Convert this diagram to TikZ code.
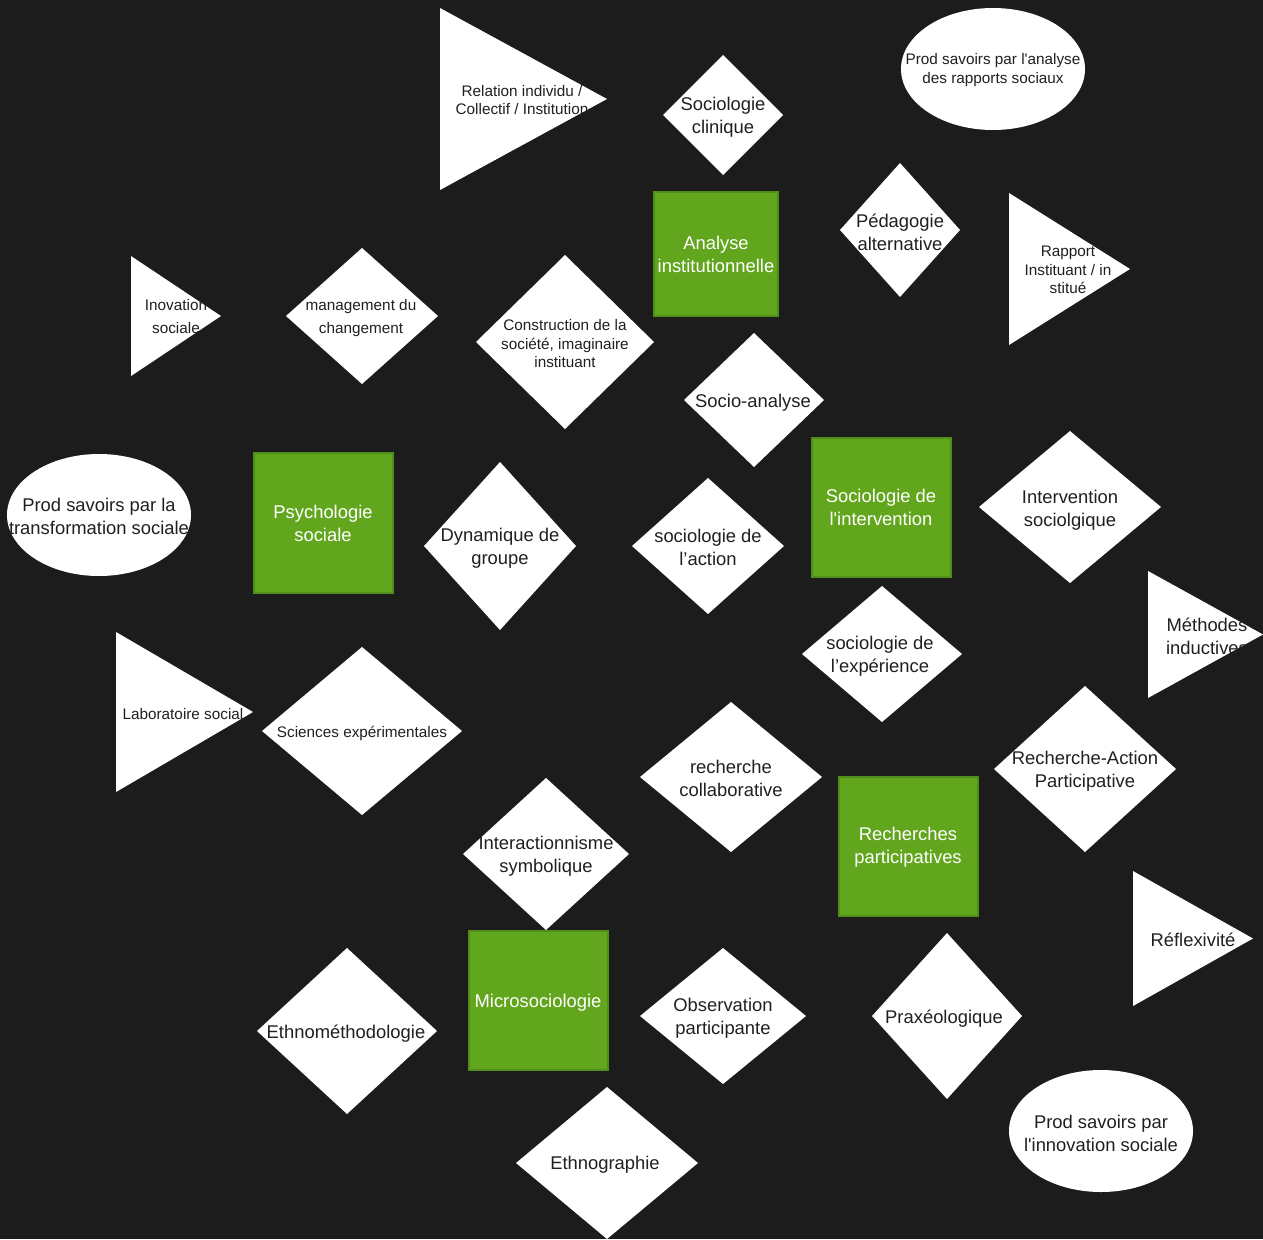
\documentclass[tikz,border=0pt]{standalone}
\usepackage{fontspec}
\setmainfont{Liberation Sans}
\definecolor{bg}{RGB}{28,28,28}
\definecolor{grn}{RGB}{98,166,30}
\definecolor{grnb}{RGB}{80,142,28}
\definecolor{ink}{RGB}{32,32,32}
\newcommand{\fsm}{\fontsize{15.3}{18.5}\selectfont}
\newcommand{\fsmw}{\fontsize{15.3}{23}\selectfont}
\newcommand{\fbg}{\fontsize{18.4}{23}\selectfont}
\newcommand{\sq}{\XeTeXglyph\XeTeXcharglyph"27\relax}
\newcommand{\mydia}[4]{\fill[white] ({#1-#3},#2) -- (#1,{#2-#4}) -- ({#1+#3},#2) -- (#1,{#2+#4}) -- cycle;}
\newcommand{\mytri}[4]{\fill[white] (#1,#2) -- (#4,{(#2+#3)/2}) -- (#1,#3) -- cycle;}
\newcommand{\myell}[4]{\fill[white] (#1,#2) ellipse [x radius=#3, y radius=#4];}
\begin{document}
\begin{tikzpicture}[x=1pt,y=-1pt,
  greenbox/.style={fill=grn, draw=grnb, line width=1.2pt},
  lbl/.style={text=ink, align=center, inner sep=0pt},
  wlbl/.style={text=white, align=center, inner sep=0pt}]
\fill[bg] (0,0) rectangle (1263,1239);
\useasboundingbox (0,0) rectangle (1263,1239);

% triangles
\mytri{440}{8}{190}{607}
\mytri{131}{256}{376}{221}
\mytri{1009}{193}{345}{1130}
\mytri{116}{632}{792}{253}
\mytri{1148}{571}{698}{1263}
\mytri{1133}{871}{1006}{1253}

% ellipses
\myell{993}{69}{92}{61}
\myell{99}{515}{92}{61}
\myell{1101}{1131}{92}{61}

% diamonds
\mydia{723}{115}{60}{60}
\mydia{900}{230}{60}{67}
\mydia{362}{316}{76}{68}
\mydia{565}{342}{89}{87}
\mydia{754}{400}{70}{67}
\mydia{500}{546}{76}{84}
\mydia{708}{546}{76}{68}
\mydia{1070}{507}{91}{76}
\mydia{882}{654}{80}{68}
\mydia{362}{731}{100}{84}
\mydia{731}{777}{91}{75}
\mydia{1085}{769}{91}{83}
\mydia{546}{854}{83}{76}
\mydia{347}{1031}{90}{83}
\mydia{723}{1016}{83}{68}
\mydia{947}{1016}{75}{83}
\mydia{607}{1163}{91}{76}

% green squares
\draw[greenbox] (654,192) rectangle (778,316);
\draw[greenbox] (254,453) rectangle (393,593);
\draw[greenbox] (812,438) rectangle (951,577);
\draw[greenbox] (839,777) rectangle (978,916);
\draw[greenbox] (469,931) rectangle (608,1070);

% labels
\node[lbl, font=\fsm] (relation) at (522,100) {Relation individu /\\Collectif / Institution};
\node[lbl, font=\fsmw] (inovation) at (176,317) {Inovation\\sociale};
\node[lbl, font=\fsm] (rapport) at (1068,270) {Rapport\\Instituant / in\\stitué};
\node[lbl, font=\fsm] (labo) at (183,714) {Laboratoire social};
\node[lbl, font=\fbg] (methodes) at (1207,636) {Méthodes\\inductives};
\node[lbl, font=\fbg] (reflex) at (1193,940) {Réflexivité};

\node[lbl, font=\fsm] (prodA) at (993,70) {Prod savoirs par l\sq analyse\\des rapports sociaux};
\node[lbl, font=\fbg] (prodT) at (99,516) {Prod savoirs par la\\transformation sociale};
\node[lbl, font=\fbg] (prodI) at (1101,1133) {Prod savoirs par\\l\sq innovation sociale};

\node[lbl, font=\fbg] (clinique) at (723,117) {Sociologie\\clinique};
\node[lbl, font=\fbg] (pedago) at (900,232) {Pédagogie\\alternative};
\node[lbl, font=\fsmw] (management) at (361,318) {management du\\changement};
\node[lbl, font=\fsm] (construction) at (565,344) {Construction de la\\société, imaginaire\\instituant};
\node[lbl, font=\fbg] (socioanalyse) at (753,403) {Socio-analyse};
\node[lbl, font=\fbg] (dynamique) at (500,548) {Dynamique de\\groupe};
\node[lbl, font=\fbg] (action) at (708,547) {sociologie de\\l’action};
\node[lbl, font=\fbg] (intervS) at (1070,510) {Intervention\\sociolgique};
\node[lbl, font=\fbg] (experience) at (880,656) {sociologie de\\l’expérience};
\node[lbl, font=\fsm] (sciences) at (362,733) {Sciences expérimentales};
\node[lbl, font=\fbg] (collab) at (731,778) {recherche\\collaborative};
\node[lbl, font=\fbg] (rap) at (1085,771) {Recherche-Action\\Participative};
\node[lbl, font=\fbg] (interact) at (546,856) {Interactionnisme\\symbolique};
\node[lbl, font=\fbg] (ethnometh) at (346,1034) {Ethnométhodologie};
\node[lbl, font=\fbg] (observation) at (723,1018) {Observation\\participante};
\node[lbl, font=\fbg] (praxeo) at (944,1019) {Praxéologique};
\node[lbl, font=\fbg] (ethnographie) at (605,1165) {Ethnographie};

\node[wlbl, font=\fbg] (analyse) at (716,254) {Analyse\\institutionnelle};
\node[wlbl, font=\fbg] (psycho) at (323,523) {Psychologie\\sociale};
\node[wlbl, font=\fbg] (sociointerv) at (881,507) {Sociologie de\\l\sq intervention};
\node[wlbl, font=\fbg] (recherches) at (908,847) {Recherches\\participatives};
\node[wlbl, font=\fbg] (micro) at (538,1003) {Microsociologie};
\end{tikzpicture}
\end{document}
